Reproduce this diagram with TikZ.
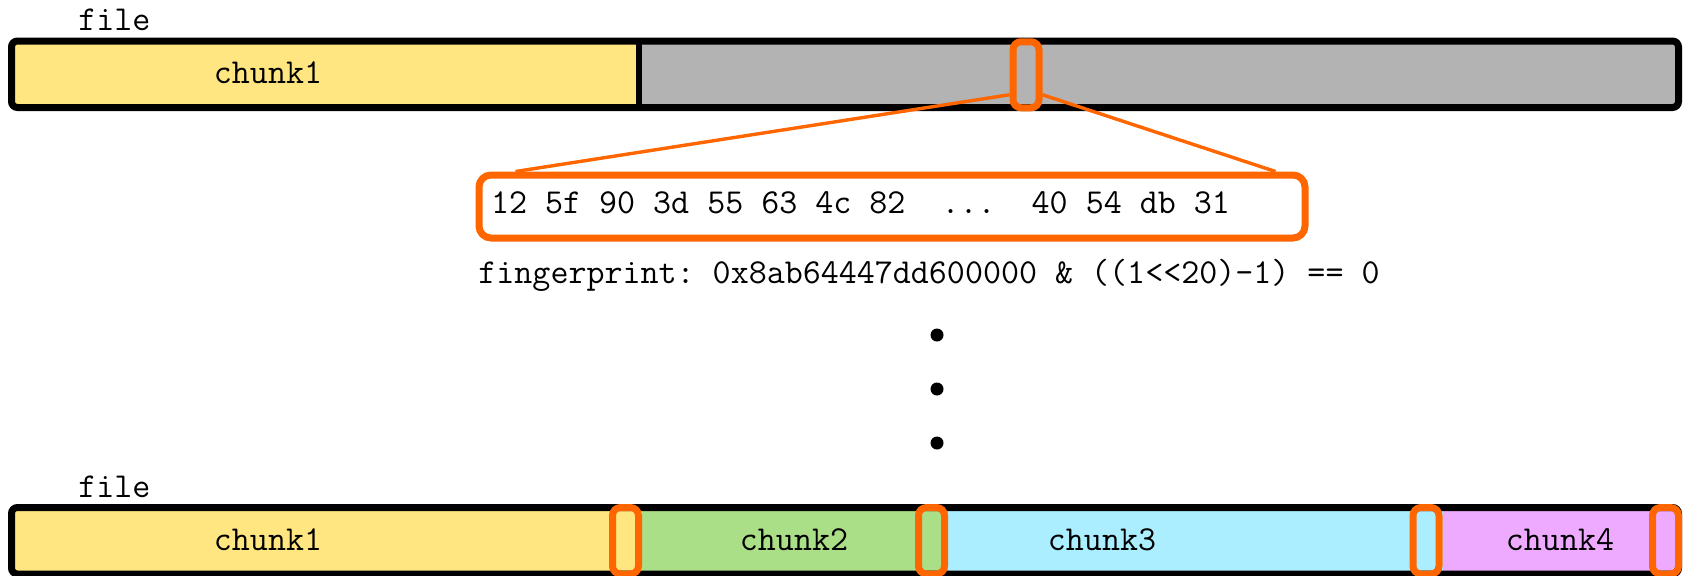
\documentclass[tikz,border=0pt]{standalone}
\usetikzlibrary{calc}
\definecolor{cyel}{HTML}{FFE680}
\definecolor{cgray}{HTML}{B3B3B3}
\definecolor{cgreen}{HTML}{AADE87}
\definecolor{ccyan}{HTML}{AAEEFF}
\definecolor{cpink}{HTML}{EEAAFF}
\definecolor{corange}{HTML}{FF6600}
\begin{document}
\begin{tikzpicture}[x=0.5pt,y=-0.5pt,
  lbl/.style={font=\ttfamily\fontsize{17.5pt}{20pt}\selectfont\frenchspacing, inner sep=0pt},
  barframe/.style={draw=black, line width=3.5pt, rounded corners=3pt},
  winbox/.style={draw=corange, line width=3.5pt, rounded corners=4pt,
    minimum width=13pt, minimum height=33pt, inner sep=0pt},
  bytebox/.style={lbl, draw=corange, line width=3.5pt, rounded corners=6pt,
    inner xsep=6pt, inner ysep=0pt, minimum height=31.5pt},
  conn/.style={draw=corange, line width=1.7pt},
  dot/.style={circle, fill=black, inner sep=0pt, minimum size=6.5pt}
]
\useasboundingbox (0,0) rectangle (1688,575);

% ---- top file bar
\node[lbl, anchor=west] (file1) at (78,20) {file};
\fill[cyel, rounded corners=3pt] (11.5,41) -- (639,41) -- (639,107.5) -- (11.5,107.5) -- cycle;
\fill[cgray, rounded corners=3pt] (639,41) -- (1678.5,41) -- (1678.5,107.5) -- (639,107.5) -- cycle;
\draw[barframe] (11.5,41) rectangle (1678.5,107.5);
\draw[line width=3.3pt] (639,41) -- (639,107.5);
\node[lbl] (tc1) at (268,73) {chunk1};
\node[winbox] (win) at (1026,74.75) {};

% ---- expanded window
\node[bytebox] (bytes) at (892,206.5) {\raisebox{-3.7pt}[0pt][0pt]{\makebox[401pt][l]{12 5f 90 3d 55 63 4c 82\ \ ...\ \ 40 54 db 31}}};
\draw[conn] ([yshift=-10pt]win.west) -- ([xshift=20pt]bytes.north west);
\draw[conn] ([yshift=-10pt]win.east) -- ([xshift=-16.5pt]bytes.north east);

\node[lbl, anchor=west] (fp) at (478,275) {fingerprint: 0x8ab64447dd600000 \& ((1<<20)-1) == 0};

% ---- dots
\node[dot] (d1) at (937,335) {};
\node[dot] (d2) at (937,389) {};
\node[dot] (d3) at (937,443) {};

% ---- bottom file bar
\node[lbl, anchor=west] (file2) at (78,487) {file};
\fill[cyel] (11.5,507.5) rectangle (642,574);
\fill[cgreen] (642,507.5) rectangle (947.5,574);
\fill[ccyan] (947.5,507.5) rectangle (1442.5,574);
\fill[cpink] (1442.5,507.5) rectangle (1678.5,574);
\draw[barframe] (11.5,507.5) rectangle (1678.5,574);
\node[lbl] (bc1) at (268,540) {chunk1};
\node[lbl] (bc2) at (794,540) {chunk2};
\node[lbl] (bc3) at (1102,540) {chunk3};
\node[lbl] (bc4) at (1560,540) {chunk4};
\node[winbox, minimum height=33.25pt] (w1) at (625.5,540.75) {};
\node[winbox, minimum height=33.25pt] (w2) at (931.5,540.75) {};
\node[winbox, minimum height=33.25pt] (w3) at (1426,540.75) {};
\node[winbox, minimum height=33.25pt] (w4) at (1665.5,540.75) {};
\end{tikzpicture}
\end{document}
